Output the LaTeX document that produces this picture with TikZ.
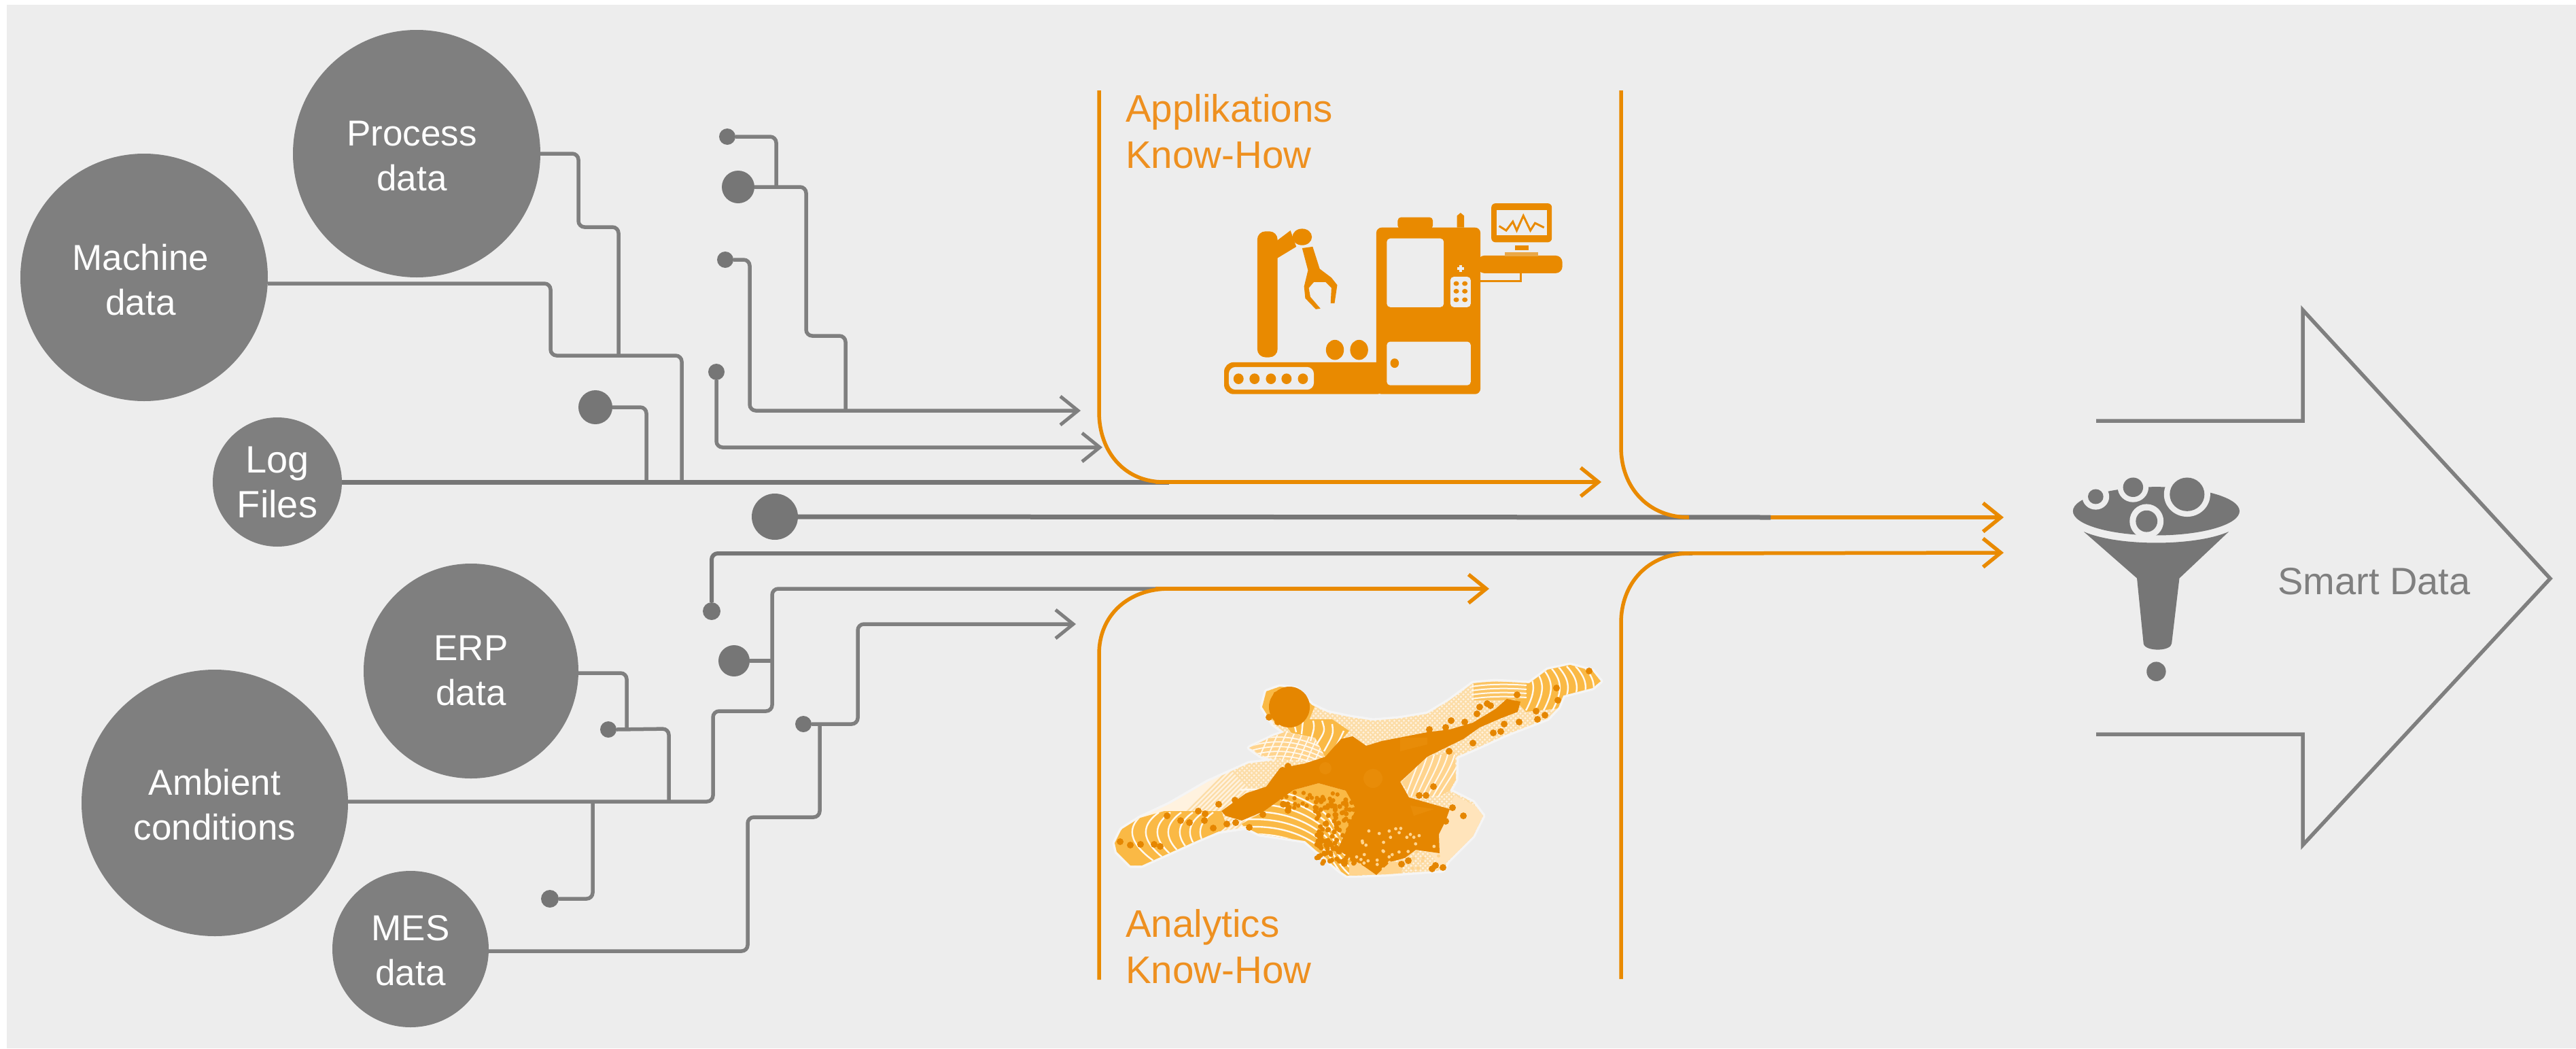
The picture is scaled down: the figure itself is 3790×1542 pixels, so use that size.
\documentclass[tikz,border=0pt]{standalone}
\usepackage{fontspec}
\setmainfont{Liberation Sans}
\usetikzlibrary{arrows.meta}
\definecolor{bgc}{HTML}{EDEDED}
\definecolor{gc}{HTML}{7F7F7F}
\definecolor{gd}{HTML}{767676}
\definecolor{oc}{HTML}{E98A00}
\definecolor{otx}{HTML}{EE9020}
\definecolor{bl}{HTML}{FAB945}
\definecolor{bm}{HTML}{FFD48E}
\definecolor{bp}{HTML}{FFF2DF}
\definecolor{bh}{HTML}{FCDDA8}
\definecolor{bd}{HTML}{E58600}
\tikzset{
 x=1pt,y=-1pt,
 src/.style={circle,fill=gc,inner sep=0pt},
 srctext/.style={text=white,align=center,inner sep=0pt,font=\fontsize{53}{66}\selectfont},
 dotn/.style={circle,fill=gd,inner sep=0pt},
 wire/.style={draw=gc,line width=5.5pt,rounded corners=9pt},
 wirearrow/.style={wire,-{Straight Barb[length=26pt,width=42pt,line width=5pt]}},
 thick wire/.style={draw=gd,line width=7pt},
 orange wire/.style={draw=oc,line width=5.5pt},
 orangearrow/.style={orange wire,-{Straight Barb[length=26pt,width=42pt,line width=5.5pt]}},
 know/.style={text=otx,align=left,anchor=north west,inner sep=0pt,font=\fontsize{56.5}{68}\selectfont},
 outline/.style={draw=gc,line width=5.5pt,miter limit=20},
 whiteline/.style={draw=white!85!bm,line width=2.4pt},
}
\begin{document}
\begin{tikzpicture}
\useasboundingbox (0,0) rectangle (3790,1542);
\fill[white] (0,0) rectangle (3790,1542);
\fill[bgc] (10,7) rectangle (3790,1542);

% source nodes
\node[src,minimum size=364pt,label={[srctext,name=procT,xshift=-7pt,yshift=-4pt]center:{Process\\data}}] (proc) at (613,226) {};
\node[src,minimum size=364pt,label={[srctext,name=machT,xshift=-5pt,yshift=-4pt]center:{Machine\\data}}] (mach) at (212,408) {};
\node[src,minimum size=190pt,label={[srctext,name=logfT,font=\fontsize{56}{66}\selectfont]center:{Log\\Files}}] (logf) at (408,709) {};
\node[src,minimum size=316pt,label={[srctext,name=erpdT]center:{ERP\\data}}] (erpd) at (693,987) {};
\node[src,minimum size=392pt,label={[srctext,name=ambiT,yshift=-3pt]center:{Ambient\\conditions}}] (ambi) at (316,1181) {};
\node[src,minimum size=230pt,label={[srctext,name=mesdT,yshift=-2pt]center:{MES\\data}}] (mesd) at (604,1396) {};

% dots
\node[dotn,minimum size=50pt] (d1) at (876,599) {};
\node[dotn,minimum size=24pt] (d2) at (1054,547) {};
\node[dotn,minimum size=24pt] (d3) at (1070,201) {};
\node[dotn,minimum size=48pt] (d4) at (1086,275) {};
\node[dotn,minimum size=24pt] (d5) at (1067,382) {};
\node[dotn,minimum size=68pt] (d6) at (1140,760) {};
\node[dotn,minimum size=26pt] (d7) at (1047,899) {};
\node[dotn,minimum size=46pt] (d8) at (1080,972) {};
\node[dotn,minimum size=24pt] (d9) at (895,1073) {};
\node[dotn,minimum size=24pt] (d10) at (1182,1065) {};
\node[dotn,minimum size=26pt] (d11) at (809,1322) {};

% free ends
\coordinate (jlogA) at (951,709);
\coordinate (jlogB) at (1003,709);
\coordinate (jmach) at (910,523);
\coordinate (jtwo) at (1142,273);
\coordinate (jthree) at (1244,604);
\coordinate (jamb) at (984,1179);
\coordinate (jerp) at (922,1072);
\coordinate (jamb2) at (872,1179);
\coordinate (jmes) at (1206,1065);
\coordinate (jd8) at (1136,972);
\coordinate (tipA) at (1590,604);
\coordinate (tipB) at (1622,658);
\coordinate (tipC) at (1583,918);
\coordinate (tipD) at (2356,709);
\coordinate (tipE) at (2191,866);
\coordinate (tipF) at (2948,761);
\coordinate (tipG) at (2948,813);

% top group wires
\draw[wire] (proc.east) -- (851,226) -- (851,334) -- (910,334) -- (jmach);
\draw[wire] (mach.east |- 0,417) -- (810,417) -- (810,523) -- (1003,523) -- (jlogB);
\draw[wire] (d1.east) -- (951,599) -- (jlogA);
\draw[thick wire] (logf.east) -- (1720,709);
\draw[wire] (d3.east) -- (1142,201) -- (jtwo);
\draw[wire] (d4.east) -- (1186,275) -- (1186,494) -- (1244,494) -- (jthree);
\draw[wirearrow] (d5.east) -- (1103,382) -- (1103,604) -- (tipA);
\draw[wirearrow] (d2.south) -- (1054,658) -- (tipB);

% middle lines
\draw[orange wire,line cap=round] (2440,761) -- (2600,761);
\draw[orangearrow] (2560,761) -- (tipF);
\draw[thick wire] (d6.east) -- (2605,761);
\draw[wire,line width=6pt,draw=gd] (d7.north) -- (1047,814) -- (2490,814);
\draw[orangearrow] (2470,814) -- (tipG);

% lower group wires
\draw[wire] (erpd.east |- 0,990) -- (922,990) -- (jerp);
\draw[wire] (d9.east) -- (984,1072) -- (jamb);
\draw[wire] (ambi.east |- 0,1179) -- (1049,1179) -- (1049,1046) -- (1136,1046) -- (1136,866) -- (1730,866);
\draw[wire] (d8.east) -- (jd8);
\draw[wirearrow] (d10.east) -- (1262,1065) -- (1262,918) -- (tipC);
\draw[wire] (mesd.east |- 0,1399) -- (1100,1399) -- (1100,1202) -- (1206,1202) -- (jmes);
\draw[wire] (d11.east) -- (872,1322) -- (jamb2);

% orange frames
\draw[orange wire] (1617,133) -- (1617,606) .. controls (1617,665) and (1655,709) .. (1712,709);
\draw[orangearrow] (1700,709) -- (tipD);
\draw[orange wire] (2385,133) -- (2385,658) .. controls (2385,717) and (2425,761) .. (2485,761);
\draw[orange wire] (1617,1441) -- (1617,962) .. controls (1617,905) and (1660,866) .. (1720,866);
\draw[orangearrow] (1700,866) -- (tipE);
\draw[orange wire] (2385,1440) -- (2385,916) .. controls (2385,858) and (2425,814) .. (2485,814);

% labels
\node[know] (appl) at (1656,138) {Applikations\\Know-How};
\node[know] (anal) at (1656,1337) {Analytics\\Know-How};
\node[text=gc,font=\fontsize{56}{66}\selectfont,inner sep=0pt] (smart) at (3493,855) {Smart Data};

% big arrow
\draw[outline] (3084,619) -- (3388,619) -- (3388,456) -- (3752,851) -- (3388,1243) -- (3388,1080) -- (3084,1080);

% robot icon
\begin{scope}[shift={(1580,120)},x=0.574pt,y=-0.4337pt]
 \fill[oc,rounded corners=12pt] (470,508) rectangle (522,935);
 \fill[oc] (520,540) -- (555,505) -- (570,560) -- (520,600) -- cycle;
 \fill[oc] (585,527) ellipse[x radius=25,y radius=28];
 \fill[oc] (585,565) -- (612,560) -- (630,635) -- (660,665) -- (675,690) -- (668,752) -- (658,752) -- (660,700) -- (645,680) -- (615,680) -- (602,700) -- (606,730) -- (632,770) -- (620,772) -- (593,735) -- (590,695) -- (600,640) -- cycle;
 \fill[oc] (669,910) ellipse[x radius=23,y radius=34];
 \fill[oc] (731,910) ellipse[x radius=23,y radius=34];
 \fill[oc,rounded corners=8pt] (775,495) rectangle (1042,1060);
 \fill[oc,rounded corners=14pt] (385,952) rectangle (800,1060);
 \fill[oc,rounded corners=5pt] (830,460) rectangle (920,500);
 \fill[oc] (982,495) -- (982,455) -- (991,445) -- (1000,455) -- (1000,495) -- cycle;
 \fill[bgc,rounded corners=5pt] (802,532) rectangle (948,765);
 \fill[bgc,rounded corners=5pt] (802,882) rectangle (1017,1030);
 \fill[oc] (822,955) ellipse[x radius=11,y radius=16];
 \fill[bgc,rounded corners=5pt] (965,662) rectangle (1017,765);
 \foreach \u in {980,1002}{\foreach \v in {685,711,740}{\fill[oc] (\u,\v) ellipse[x radius=7,y radius=8];}}
 \fill[bgc] (987,622) rectangle (995,646);
 \fill[bgc] (982,630) rectangle (1000,638);
 \fill[oc,rounded corners=10pt] (1035,590) rectangle (1252,650);
 \draw[oc,line width=3pt] (1040,676) -- (1146,676) -- (1146,650);
 \fill[oc,rounded corners=6pt] (1070,413) rectangle (1225,545);
 \fill[bgc] (1083,436) rectangle (1212,520);
 \draw[oc,line width=3pt] (1090,490) -- (1108,505) -- (1125,475) -- (1135,505) -- (1152,455) -- (1170,505) -- (1182,480) -- (1205,495);
 \fill[oc] (1130,555) rectangle (1165,572);
 \fill[oc!70!bgc] (1105,578) rectangle (1190,592);
 \fill[bgc,rounded corners=10pt] (397,968) -- (615,968) -- (615,1045) -- (397,1045) -- cycle;
 \foreach \u in {422,463,505,545,587}{\fill[oc] (\u,1008) ellipse[x radius=13,y radius=18];}
\end{scope}

% analytics blob
\def\blobpath{(1640,1240) -- (1650,1220) -- (1677,1203) -- (1720,1183) -- (1777,1150) -- (1837,1123) -- (1877,1118) -- (1855,1112) -- (1838,1100) -- (1873,1083) -- (1890,1077) -- (1873,1065) -- (1857,1040) -- (1863,1017) -- (1883,1010) -- (1907,1013) -- (1930,1037) -- (1953,1048) -- (1987,1055) -- (2020,1060) -- (2057,1057) -- (2100,1050) -- (2133,1030) -- (2167,1005) -- (2200,1002) -- (2250,1005) -- (2277,985) -- (2310,978) -- (2343,987) -- (2355,1002) -- (2343,1012) -- (2300,1023) -- (2293,1040) -- (2277,1057) -- (2217,1080) -- (2173,1100) -- (2143,1113) -- (2142,1147) -- (2133,1163) -- (2167,1180) -- (2182,1200) -- (2167,1230) -- (2130,1267) -- (2123,1280) -- (2039,1286) -- (1982,1288) -- (1970,1280) -- (1927,1243) -- (1920,1237) -- (1853,1227) -- (1833,1217) -- (1793,1223) -- (1760,1237) -- (1680,1273) -- (1663,1273) -- (1643,1253) -- cycle}
\draw[white!45!bgc,line width=7pt,line join=round] \blobpath;
\begin{scope}
 \clip \blobpath;
 \fill[bp] (1630,970) rectangle (2360,1295);
 \foreach \k in {0,1,...,120}{
  \draw[bh,line width=2.2pt] (1640+\k*7,1300) -- ++(340,-340);
  \draw[bh,line width=2.2pt] (1640+\k*7,960) -- ++(340,340);}
 % lower left tail
 \fill[bl] (1635,1240) -- (1660,1208) -- (1713,1193) -- (1760,1193) -- (1797,1193) -- (1805,1215) -- (1793,1225) -- (1760,1240) -- (1680,1280) -- (1660,1280) -- cycle;
 \foreach \X in {1675,1695,1712,1728,1745,1760,1775}{
  \draw[whiteline] (\X+10,1195) .. controls (\X-18,1215) and (\X-20,1240) .. (\X+35,1275);}
 % second lobe
 \fill[bm] (1838,1100) -- (1873,1083) -- (1890,1077) -- (1930,1085) -- (1950,1105) -- (1950,1115) -- (1900,1118) -- (1860,1112) -- cycle;
 \foreach \k in {0,...,4}{\draw[whiteline,line width=1.8pt] (1835,1092+\k*7) .. controls (1870,1080+\k*7) and (1910,1080+\k*7) .. (1955,1105+\k*7);}
 \foreach \k in {0,...,8}{\draw[whiteline,line width=1.8pt] (1850+\k*12,1120) -- (1870+\k*12,1075);}
 % top lobe with bands
 \fill[bl] (1850,1040) -- (1860,1010) -- (1910,1005) -- (1935,1037) -- (1925,1062) -- (1880,1065) -- cycle;
 \fill[bl] (1885,1058) -- (1960,1058) -- (1985,1075) -- (1968,1095) -- (1950,1114) -- (1935,1085) -- (1900,1078) -- cycle;
 \draw[whiteline] (1903,1060) -- (1907,1077);
 \draw[whiteline] (1917,1060) -- (1915,1080);
 \draw[whiteline] (1932,1060) .. controls (1934,1070) .. (1928,1090);
 \draw[whiteline] (1945,1060) .. controls (1950,1075) .. (1937,1095);
 \draw[whiteline] (1960,1065) .. controls (1962,1080) .. (1948,1105);
 \draw[whiteline] (1977,1075) .. controls (1970,1090) .. (1957,1112);
 % bottom waves
 \fill[bl] (1827,1212) -- (1860,1193) -- (1903,1162) -- (1940,1152) -- (1980,1163) -- (2003,1190) -- (2005,1290) -- (1970,1290) -- (1927,1246) -- (1920,1240) -- (1853,1230) -- (1833,1220) -- cycle;
 \foreach \d in {-48,-37,-26,-15,-4,7,18}{
  \draw[whiteline] (1825,1210+\d) .. controls (1880,1205+\d) and (1920,1220+\d) .. (1950,1245+\d) .. controls (1962,1258+\d) and (1968,1275+\d) .. (1985,1290+\d);}
 \fill[bm] (1985,1268) -- (2065,1268) -- (2060,1295) -- (1985,1295) -- cycle;
 % right fan
 \fill[bm] (2063,1150) -- (2100,1113) -- (2140,1105) -- (2142,1147) -- (2133,1163) -- (2120,1170) -- (2075,1172) -- cycle;
 \foreach \k in {0,...,6}{\draw[whiteline,line width=2pt] (2068+\k*8,1172) .. controls (2075+\k*9,1150) and (2085+\k*10,1130) .. (2090+\k*10,1110);}
 % right lower lobe
 \fill[bm!45!bp] (2133,1185) -- (2140,1170) -- (2170,1185) -- (2185,1200) -- (2165,1235) -- (2120,1275) -- (2100,1250) -- cycle;
 % upper right bands
 \fill[bl] (2250,1000) -- (2277,980) -- (2310,972) -- (2345,985) -- (2360,1002) -- (2345,1014) -- (2300,1025) -- (2293,1042) -- (2245,1047) -- (2225,1025) -- cycle;
 \foreach \X in {2249,2262,2275,2288,2300,2313,2326,2338}{
  \draw[whiteline] (\X-8,980) .. controls (\X+10,1000) and (\X+12,1015) .. (\X-4,1045);}
 \fill[bl!80!bp] (2168,1003) -- (2245,1003) -- (2245,1027) -- (2215,1030) -- (2168,1030) -- cycle;
 \foreach \v in {1008,1014,1020,1026}{\draw[whiteline,line width=2pt] (2165,\v+2) .. controls (2190,\v-2) and (2220,\v-2) .. (2246,\v);}
\end{scope}
% core
\fill[bd] (1797,1193) -- (1833,1167) -- (1863,1157) -- (1883,1130) -- (1920,1123) -- (1950,1113) -- (1973,1087) -- (1990,1083) -- (2010,1097) -- (2033,1090) -- (2100,1077) -- (2133,1073) -- (2167,1063) -- (2200,1043) -- (2217,1028) -- (2237,1032) -- (2233,1047) -- (2207,1057) -- (2177,1070) -- (2153,1087) -- (2100,1113) -- (2060,1150) -- (2073,1173) -- (2133,1190) -- (2127,1207) -- (2117,1227) -- (2118,1255) -- (2083,1250) -- (2067,1262) -- (2045,1268) -- (2025,1287) -- (2008,1275) -- (1968,1250) -- (1995,1190) -- (1980,1163) -- (1940,1152) -- (1903,1162) -- (1860,1193) -- (1827,1207) -- (1803,1200) -- cycle;
\fill[bd] (1897,1040) circle[radius=30pt];
\fill[bd!88!bl] (1950,1130) circle[radius=9pt];
\fill[bd!88!bl] (2020,1145) circle[radius=14pt];
\fill[bd!88!bl] (2110,1190) -- (2075,1185) -- (2080,1200) -- cycle;
\fill[bd!88!bl] (2060,1085) -- (2100,1085) -- (2100,1095) -- (2060,1105) -- cycle;
% dark specks inside the wave zone
\pgfmathsetseed{7}
\foreach \i in {1,...,130}{
 \pgfmathsetmacro\u{1935+rnd*70}
 \pgfmathsetmacro\v{1175+rnd*95}
 \fill[bd] (\u,\v) circle[radius=3.6pt];}
\foreach \i in {1,...,30}{
 \pgfmathsetmacro\u{1880+rnd*90}
 \pgfmathsetmacro\v{1165+rnd*25}
 \fill[bd] (\u,\v) circle[radius=3.2pt];}
% light specks in the lower core
\foreach \i in {1,...,45}{
 \pgfmathsetmacro\u{1990+rnd*130}
 \pgfmathsetmacro\v{1218+rnd*62}
 \fill[bm] (\u,\v) circle[radius=2.4pt];}
\foreach \u/\v in {1648/1238,1663/1243,1678/1242,1698/1242,1707/1245,1717/1200,1737/1207,1750/1210,1763/1193,1773/1197,1772/1207,1793/1183,1817/1177,1785/1218,1805/1212,1818/1210,1838/1217,1858/1198,1887/1133,1895/1127,1888/1183,1895/1192,1942/1230,1952/1243,1970/1252,1978/1270,1867/1055,1872/1037,1878/1022,1880/1062,1917/1025,2338/987,2290/1012,2232/1022,2292/1030,2260/1046,2273/1052,2262/1058,2235/1062,2213/1065,2208/1076,2197/1078,2167/1093,2132/1105,2177/1040,2173/1050,2188/1035,2193/1038,2135/1060,2155/1062,2127/1070,2103/1073,2109/1157,2088/1170,2098/1170,2137/1188,2153/1200,2127/1208,2062/1271,2072/1266,2112/1273,2123/1276,2107/1278}{
 \fill[bd] (\u,\v) circle[radius=5pt];}

% funnel icon
\begin{scope}[shift={(2900,420)},x=0.5675pt,y=-0.5485pt]
 \fill[gd] (480,605) ellipse[x radius=216,y radius=65];
 \fill[bgc] (220,540) rectangle (470,522);
 \draw[bgc,line width=4pt] (285,650) .. controls (380,695) and (580,695) .. (675,650);
 \fill[gd] (292,660) .. controls (380,700) and (580,700) .. (668,660) -- (540,785) -- (520,960) .. controls (518,982) and (450,982) .. (447,960) -- (430,785) -- cycle;
 \fill[gd] (480,1035) ellipse[x radius=25,y radius=26];
 \foreach \u/\v/\r/\s in {323/566/35/20, 420/541/40/26, 560/560/60/45}{
   \fill[bgc] (\u,\v) ellipse[x radius=\r,y radius=\r];
   \fill[gd] (\u,\v) ellipse[x radius=\s,y radius=\s];}
 \fill[bgc] (455,632) ellipse[x radius=44,y radius=46];
 \fill[gd] (455,632) ellipse[x radius=28,y radius=29];
\end{scope}
\end{tikzpicture}
\end{document}
